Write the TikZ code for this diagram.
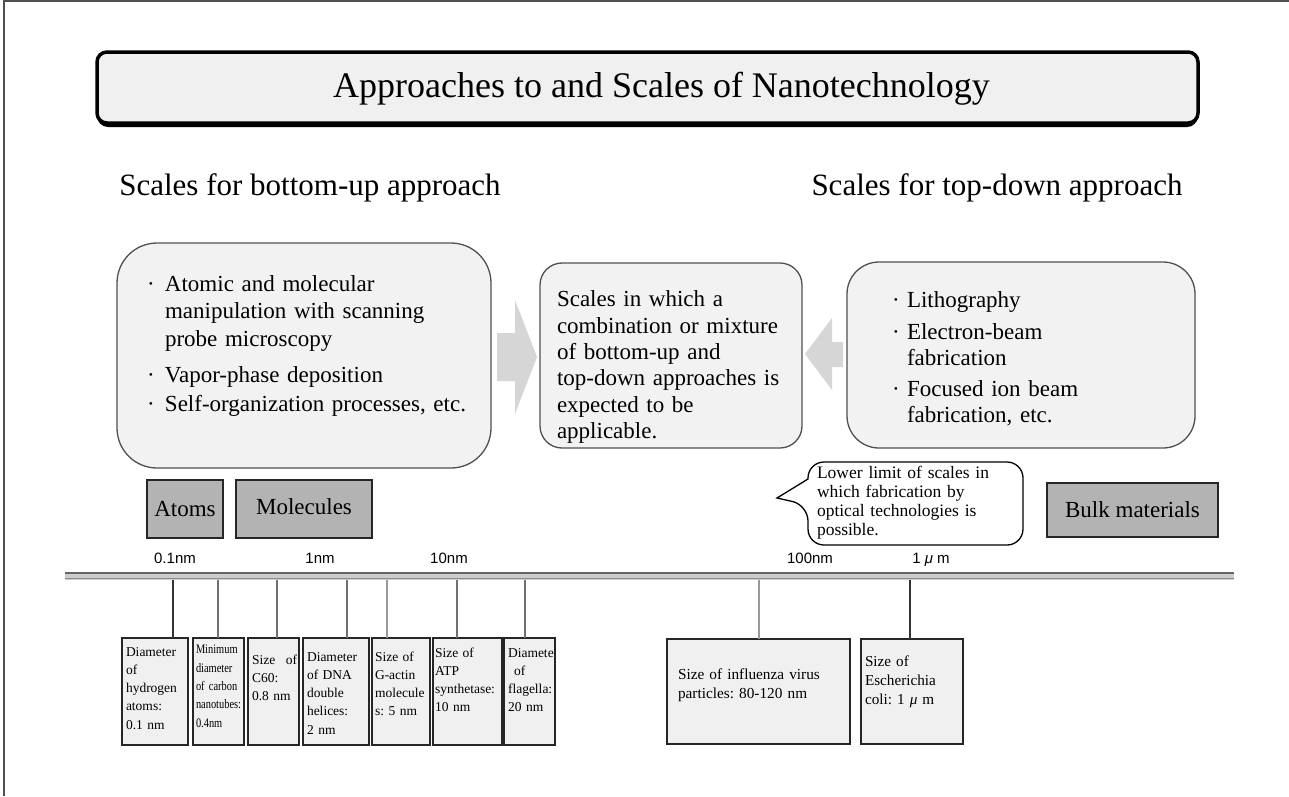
\documentclass[tikz,border=0pt]{standalone}
\usepackage{fontspec}
\setmainfont{Liberation Serif}
\newfontfamily\labsans{Liberation Sans}
\newfontfamily\condser[FakeStretch=0.8]{Liberation Serif}
\usetikzlibrary{calc}
\frenchspacing
\newcommand\fsz[2]{\fontsize{#1}{#2}\selectfont}
\newcommand\bulA{\makebox[18pt][l]{·}}
\newcommand\indA{\hspace*{18pt}}
\newcommand\bulB{\makebox[15pt][l]{·}}
\newcommand\indB{\hspace*{15pt}}
\definecolor{panelfill}{HTML}{F2F2F2}
\definecolor{panelline}{HTML}{505050}
\definecolor{catfill}{HTML}{B3B3B3}
\definecolor{factfill}{HTML}{F0F0F0}
\definecolor{arrowfill}{HTML}{D6D6D6}
\definecolor{tickgray}{HTML}{707070}
\definecolor{framegray}{HTML}{505050}
\begin{document}
\begin{tikzpicture}[x=1pt,y=-1pt,
  every node/.style={inner sep=0pt,outer sep=0pt},
  titlebox/.style={draw=black,line width=3.5pt,fill=factfill,rounded corners=10,anchor=north west},
  panel/.style={draw=panelline,line width=1.3pt,fill=panelfill,anchor=north west},
  graybox/.style={draw=black!85,line width=1.3pt,fill=catfill,anchor=north west,font=\fsz{23}{26}},
  factbox/.style={draw=black!85,line width=1.3pt,fill=factfill,anchor=north west,minimum height=107},
  facttext/.style={anchor=north west,align=left,text width=120,font=\fsz{13.5}{18.3}},
  bigtext/.style={anchor=north west,align=left,text width=330},
  tickline/.style={draw=tickgray,line width=1.2pt},
  scalelab/.style={font=\labsans\fsz{15}{18},anchor=base},
  blockarrow/.style={fill=arrowfill,draw=none},
  callout/.style={draw=black,line width=1.3pt,fill=white}]
\useasboundingbox (0,0) rectangle (1289,796);
\fill[white] (0,0) rectangle (1289,796);
\draw[framegray,line width=1.5pt] (4,796) -- (4,1) -- (1289,1);

% title
\fill[black,rounded corners=11] (97,55) rectangle (1198,127);
\node[titlebox,minimum width=1101,minimum height=71] (tbox) at (97,52) {};
\node[font=\fsz{36}{40}] (title) at (661.5,89) {Approaches to and Scales of Nanotechnology};

% headings
\node[font=\fsz{31}{34}] (hbu) at (310,188) {Scales for bottom-up approach};
\node[font=\fsz{31}{34}] (htd) at (997,188) {Scales for top-down approach};

% block arrows
\fill[blockarrow] (497,333) -- (515,333) -- (515,300) -- (537,357) -- (515,414) -- (515,381) -- (497,381) -- cycle;
\fill[blockarrow] (843,342) -- (832,342) -- (832,318) -- (805,354) -- (832,390) -- (832,367) -- (843,367) -- cycle;

% panels
\node[panel,rounded corners=40,minimum width=374,minimum height=225] (bu) at (117,243) {};
\node[panel,rounded corners=22,minimum width=262,minimum height=185] (mix) at (540,263) {};
\node[panel,rounded corners=32,minimum width=348,minimum height=186] (td) at (847,262) {};

\node[bigtext,font=\fsz{23}{27.5}] (butext) at (147,272) {\strut\bulA Atomic and molecular\\\indA manipulation with scanning\\\indA probe microscopy\\[9pt]\bulA Vapor-phase deposition\\[1.5pt]\bulA Self-organization processes, etc.};
\node[bigtext,font=\fsz{23}{26.3}] (mixtext) at (557,288.5) {\strut Scales in which a\\combination or mixture\\of bottom-up and\\top-down approaches is\\expected to be\\applicable.};
\node[bigtext,font=\fsz{23}{26}] (tdtext) at (892,289.5) {\strut\bulB Lithography\\[6pt]\bulB Electron-beam\\\indB fabrication\\[5pt]\bulB Focused ion beam\\\indB fabrication, etc.};

% category boxes
\node[graybox,minimum width=76,minimum height=58] (atoms) at (147,480) {Atoms};
\node[graybox,minimum width=136,minimum height=58] (molec) at (236,480) {\raisebox{4pt}{Molecules}};
\node[graybox,minimum width=171,minimum height=54] (bulk) at (1047,483) {Bulk materials};

% callout
\draw[callout] (777,498) -- (808,479) [rounded corners=16] -- (808,462) -- (1023,462) -- (1023,545) -- (808,545) -- (808,505) [sharp corners] -- cycle;
\node[bigtext,text width=200,font=\fsz{17.5}{19}] (calltext) at (817,465) {\strut Lower limit of scales in\\which fabrication by\\optical technologies is\\possible.};

% scale labels
\node[scalelab] (l01) at (175,563.5) {0.1nm};
\node[scalelab] (l1) at (320,563.5) {1nm};
\node[scalelab] (l10) at (449,563.5) {10nm};
\node[scalelab] (l100) at (810,563.5) {100nm};
\node[scalelab] (l1000) at (931,563.5) {1 \textit{μ} m};

% scale line
\fill[black!20] (65,572) rectangle (1234,580);
\draw[black!60,line width=2.5pt] (65,573) -- (1234,573);
\draw[black!45,line width=1.8pt] (65,578.5) -- (1234,578.5);
\foreach \n/\x in {s1/173,s2/218,s3/277,s4/347,s5/387,s6/457,s7/525,s8/759,s9/910}
  \coordinate (\n) at (\x,580);

% fact boxes
\node[factbox,minimum width=66] (f1) at (122,638) {};
\node[factbox,minimum width=51] (f2) at (193,638) {};
\node[factbox,minimum width=51] (f3) at (248,638) {};
\node[factbox,minimum width=66] (f4) at (303,638) {};
\node[factbox,minimum width=58] (f5) at (372,638) {};
\node[factbox,minimum width=69] (f6) at (433,638) {};
\node[factbox,minimum width=51] (f7) at (504,638) {};
\node[factbox,minimum width=183,minimum height=105] (f8) at (667,639) {};
\node[factbox,minimum width=102,minimum height=105] (f9) at (861,639) {};

\draw[tickline,draw=black!80] (s1) -- (s1 |- f1.north);
\draw[tickline] (s2) -- (s2 |- f2.north);
\draw[tickline] (s3) -- (s3 |- f3.north);
\draw[tickline] (s4) -- (s4 |- f4.north);
\draw[tickline,draw=black!40] (s5) -- (s5 |- f5.north);
\draw[tickline] (s6) -- (s6 |- f6.north);
\draw[tickline] (s7) -- (s7 |- f7.north);
\draw[tickline,draw=black!40] (s8) -- (s8 |- f8.north);
\draw[tickline,draw=black!80] (s9) -- (s9 |- f9.north);

\node[facttext] (t1) at (126,643.2) {\strut Diameter\\of\\hydrogen\\atoms:\\0.1 nm};
\node[facttext,font=\condser\fsz{13}{18.3}] (t2) at (196,641.1) {\strut Minimum\\diameter\\of carbon\\nanotubes:\\0.4nm};
\node[facttext] (t3) at (252,651.2) {\strut\makebox[45pt][s]{Size\hfill of}\\C60:\\0.8 nm};
\node[facttext] (t4) at (307,648.2) {\strut Diameter\\of DNA\\double\\helices:\\2 nm};
\node[facttext] (t5) at (375,648.2) {\strut Size of\\G-actin\\molecule\\s: 5 nm};
\node[facttext] (t6) at (435,644.2) {\strut Size of\\ATP\\synthetase:\\10 nm};
\node[facttext] (t7) at (508,644.2) {\strut Diamete\\\hspace*{6pt}of\\flagella:\\20 nm};
\node[facttext,text width=180,font=\fsz{15.3}{19}] (t8) at (678,666.3) {\strut Size of influenza virus\\particles: 80-120 nm};
\node[facttext,text width=100,font=\fsz{15.2}{19}] (t9) at (865,653.3) {\strut Size of\\Escherichia\\coli: 1 \textit{μ} m};
\end{tikzpicture}
\end{document}
